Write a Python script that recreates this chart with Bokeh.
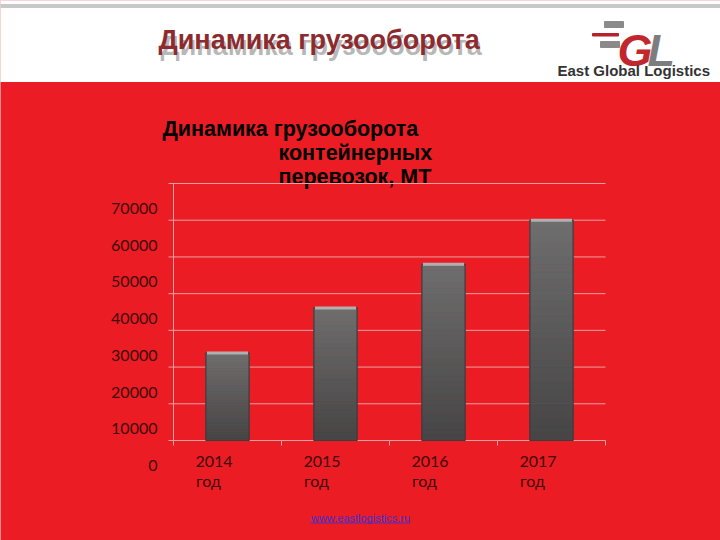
import numpy as np
from bokeh.plotting import figure
from bokeh.models import Range1d, FixedTicker, LinearAxis
from bokeh.core.properties import value
from bokeh.embed import file_html
from bokeh.resources import INLINE

# ---------------- data ----------------
years = ["2014", "2015", "2016", "2017"]
year_suffix = "год"
volumes = [23800, 36100, 48000, 60000]
y_ticks = [0, 10000, 20000, 30000, 40000, 50000, 60000, 70000]
y_tick_labels = [str(t) for t in y_ticks]

header_title = "Динамика грузооборота"
chart_title_1 = "Динамика грузооборота"
chart_title_2 = "контейнерных"
chart_title_3 = "перевозок, МТ"
company = "East Global Logistics"
website = "www.eastlogistics.ru"

# ---------------- layout constants (pixels) ----------------
W, H = 720, 540
PLOT_L, PLOT_R, PLOT_T, PLOT_B = 173, 605, 183, 440
TICK = 5
Y_MAX = y_ticks[-1]
N_CAT = len(years)

RED = "#ec1c24"
GRID = "#e9a2a2"
LABEL_C = "#3d0a0a"

cat_px = (PLOT_R - PLOT_L) / N_CAT
val_px = (PLOT_B - PLOT_T) / Y_MAX
x_range = Range1d(-PLOT_L / cat_px, (W - PLOT_L) / cat_px)
y_range = Range1d(-(H - PLOT_B) / val_px, PLOT_B / val_px)

p = figure(width=W, height=H, x_range=x_range, y_range=y_range,
           x_axis_type=None, y_axis_type=None,
           output_backend="svg", toolbar_location=None, min_border=0,
           background_fill_color=RED, border_fill_color=RED, outline_line_color=None)
p.grid.visible = False

# label axes are drawn on shifted ranges (labels sit off the gridlines in the original)
ys = 25 / val_px
x_year = 40.5 / cat_px
x_god = 35 / cat_px
p.extra_x_ranges = {"px": Range1d(0, W),
                    "xyear": Range1d(x_range.start - x_year, x_range.end - x_year),
                    "xgod": Range1d(x_range.start - x_god, x_range.end - x_god)}
p.extra_y_ranges = {"px": Range1d(H, 0),
                    "ylbl": Range1d(y_range.start + ys, y_range.end + ys)}
PX = dict(x_range_name="px", y_range_name="px")

# ---------------- header (white band) ----------------
p.quad(left=[0], right=[W], top=[0], bottom=[81], color="white", **PX)
p.quad(left=[0], right=[W], top=[4], bottom=[7], color="#c8c8c8", **PX)
p.text(x=[160], y=[45], text=[header_title], text_font=value("Liberation Sans"),
       text_font_style="bold", text_font_size="27px", text_color="#a0a0a0",
       text_alpha=0.75, text_baseline="middle", **PX)
p.text(x=[158], y=[39], text=[header_title], text_font=value("Liberation Sans"),
       text_font_style="bold", text_font_size="27px", text_color="#8c2a2e",
       text_baseline="middle", **PX)
# logo
p.quad(left=[604], right=[623], top=[21], bottom=[27], color="#8a8a8a", **PX)
p.quad(left=[592], right=[618], top=[33], bottom=[35.5], color="#b3232b", **PX)
p.quad(left=[600], right=[619], top=[41], bottom=[47], color="#8a8a8a", **PX)
p.text(x=[617], y=[50], text=["G"], text_font=value("Liberation Sans"),
       text_font_style="bold italic", text_font_size="45px", text_color="#c1272d",
       text_baseline="alphabetic", **PX)
p.text(x=[647], y=[50], text=["L"], text_font=value("Liberation Sans"),
       text_font_style="bold italic", text_font_size="45px", text_color="#7d7d7d",
       text_baseline="alphabetic", **PX)
p.text(x=[557], y=[70], text=[company], text_font=value("Liberation Sans"),
       text_font_style="bold", text_font_size="15px", text_color="#333333",
       text_baseline="middle", **PX)

# ---------------- chart title ----------------
for txt, tx, ty in [(chart_title_1, 162, 128), (chart_title_2, 278, 152), (chart_title_3, 278, 176)]:
    p.text(x=[tx], y=[ty], text=[txt], text_font=value("Liberation Sans"),
           text_font_style="bold", text_font_size="21.5px", text_color="#000000",
           text_baseline="middle", **PX)

# ---------------- axis lines, ticks, grid ----------------
p.segment(x0=[-TICK / cat_px] * len(y_ticks), x1=[N_CAT] * len(y_ticks), y0=y_ticks, y1=y_ticks,
          line_color=GRID, line_width=1)
p.segment(x0=[0], y0=[0], x1=[0], y1=[Y_MAX], line_color=GRID, line_width=1)
p.segment(x0=list(range(N_CAT + 1)), y0=[0] * (N_CAT + 1), x1=list(range(N_CAT + 1)),
          y1=[-TICK / val_px] * (N_CAT + 1), line_color=GRID, line_width=1)

# ---------------- bars ----------------
xs = [i + 0.5 for i in range(N_CAT)]
N = 30
top_c = np.array([0x6e, 0x6e, 0x6e])
bot_c = np.array([0x45, 0x45, 0x45])
for k in range(N):
    f0, f1 = k / N, (k + 1) / N
    c = bot_c + (top_c - bot_c) * (k + 0.5) / N
    col = "#%02x%02x%02x" % tuple(int(round(v)) for v in c)
    p.vbar(x=xs, width=0.4, bottom=[v * f0 for v in volumes], top=[v * f1 for v in volumes],
           fill_color=col, line_color=col, line_width=0.6)
p.vbar(x=xs, width=0.4, top=volumes, fill_color=None, line_color="#3c3c3c", line_width=1.2)
p.segment(x0=[x - 0.19 for x in xs], y0=volumes, x1=[x + 0.19 for x in xs], y1=volumes,
          line_color="#b0b0b0", line_width=3)

# ---------------- tick-label axes ----------------
def label_axis(**kw):
    return LinearAxis(axis_line_color=None, major_tick_line_color=None,
                      minor_tick_line_color=None, major_tick_out=0, major_tick_in=0,
                      major_label_text_font="Lato", major_label_text_font_size="16px",
                      major_label_text_color=LABEL_C, fixed_location=0, **kw)

yax = label_axis(y_range_name="ylbl", ticker=FixedTicker(ticks=y_ticks),
                 major_label_overrides={t: s for t, s in zip(y_ticks, y_tick_labels)},
                 major_label_standoff=16)
p.add_layout(yax, "left")
xax1 = label_axis(x_range_name="xyear", ticker=FixedTicker(ticks=list(range(N_CAT))),
                  major_label_overrides={i: y for i, y in enumerate(years)},
                  major_label_standoff=15)
p.add_layout(xax1, "below")
xax2 = label_axis(x_range_name="xgod", ticker=FixedTicker(ticks=list(range(N_CAT))),
                  major_label_overrides={i: year_suffix for i in range(N_CAT)},
                  major_label_standoff=30)
p.add_layout(xax2, "below")

# ---------------- footer ----------------
p.text(x=[360], y=[517], text=[website], text_font=value("Liberation Sans"),
       text_font_size="11px", text_color="#4030c8", text_align="center",
       text_baseline="middle", **PX)
p.segment(x0=[310], y0=[522.5], x1=[410], y1=[522.5], line_color="#4030c8", line_width=1, **PX)

open("out.html", "w").write(file_html(p, INLINE))
